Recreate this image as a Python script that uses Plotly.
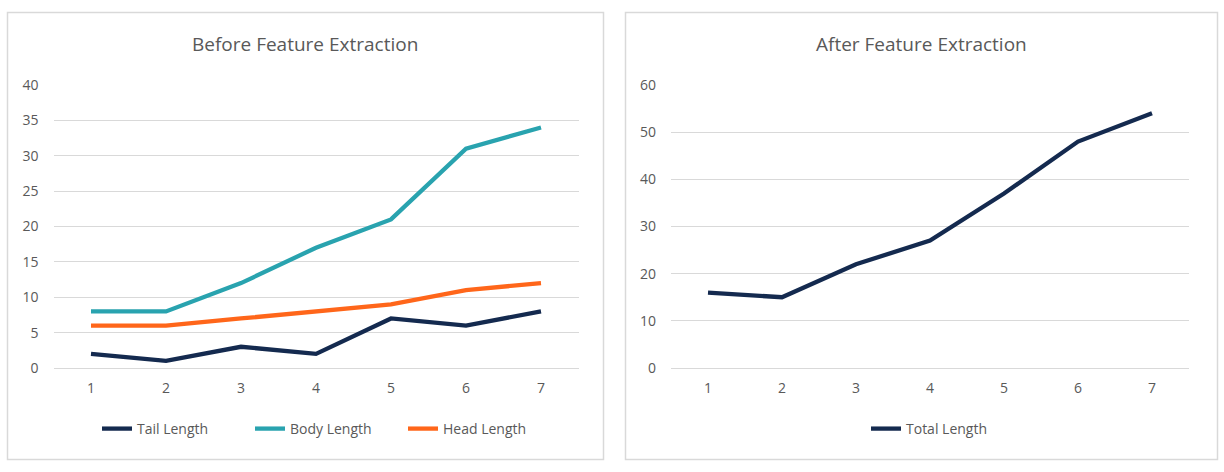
import plotly.graph_objects as go

categories = [1, 2, 3, 4, 5, 6, 7]
tail_length = [2, 1, 3, 2, 7, 6, 8]
body_length = [8, 8, 12, 17, 21, 31, 34]
head_length = [6, 6, 7, 8, 9, 11, 12]
total_length = [16, 15, 22, 27, 37, 48, 54]

W, H = 1224, 472
NAVY = "#142A4F"
TEAL = "#29A3AF"
ORANGE = "#FF661A"
GRID = "#D9D9D9"
TXT = "#595959"
FONT = "Open Sans"
LW = 4.3

fig = go.Figure()
fig.add_trace(go.Scatter(x=categories, y=tail_length, name="Tail Length", mode="lines",
                         line=dict(color=NAVY, width=LW), xaxis="x", yaxis="y", legend="legend"))
fig.add_trace(go.Scatter(x=categories, y=body_length, name="Body Length", mode="lines",
                         line=dict(color=TEAL, width=LW), xaxis="x", yaxis="y", legend="legend"))
fig.add_trace(go.Scatter(x=categories, y=head_length, name="Head Length", mode="lines",
                         line=dict(color=ORANGE, width=LW), xaxis="x", yaxis="y", legend="legend"))
fig.add_trace(go.Scatter(x=categories, y=total_length, name="Total Length", mode="lines",
                         line=dict(color=NAVY, width=LW), xaxis="x2", yaxis="y2", legend="legend2"))

ydom = [104 / H, 387 / H]
common_x = dict(range=[0.5, 7.5], tickmode="array", tickvals=categories, showgrid=False,
                zeroline=False, showline=False, ticks="", ticklabelstandoff=10, automargin=False,
                tickfont=dict(family=FONT, size=14, color=TXT), fixedrange=True)
common_y = dict(showgrid=True, gridcolor=GRID, gridwidth=1, zeroline=True, zerolinecolor=GRID,
                zerolinewidth=1, showline=False, ticks="", ticklabelstandoff=14, automargin=False,
                tickfont=dict(family=FONT, size=14, color=TXT), fixedrange=True)

fig.update_layout(
    width=W, height=H,
    margin=dict(l=0, r=0, t=0, b=0, autoexpand=False),
    paper_bgcolor="white", plot_bgcolor="white",
    font=dict(family=FONT, color=TXT),
    xaxis=dict(domain=[53.5 / W, 578.5 / W], anchor="y", **common_x),
    yaxis=dict(domain=ydom, anchor="x", range=[0, 40], dtick=5, **common_y),
    xaxis2=dict(domain=[671 / W, 1189 / W], anchor="y2", **common_x),
    yaxis2=dict(domain=ydom, anchor="x2", range=[0, 60], dtick=10, **common_y),
    legend=dict(orientation="h", x=97 / W, xanchor="left", y=1 - 429 / H, yanchor="middle",
                xref="container", yref="container",
                font=dict(family=FONT, size=14, color=TXT), entrywidth=108,
                bgcolor="rgba(0,0,0,0)"),
    legend2=dict(orientation="h", x=866 / W, xanchor="left", y=1 - 429 / H, yanchor="middle",
                 xref="container", yref="container",
                 font=dict(family=FONT, size=14, color=TXT),
                 bgcolor="rgba(0,0,0,0)"),
    showlegend=True,
    annotations=[
        dict(text="Before Feature Extraction", x=305 / W, y=1 - 44 / H, xref="paper", yref="paper",
             xanchor="center", yanchor="middle", showarrow=False,
             font=dict(family=FONT, size=19, color=TXT)),
        dict(text="After Feature Extraction", x=921 / W, y=1 - 44 / H, xref="paper", yref="paper",
             xanchor="center", yanchor="middle", showarrow=False,
             font=dict(family=FONT, size=19, color=TXT)),
    ],
    shapes=[
        dict(type="rect", xref="paper", yref="paper", x0=7.5 / W, x1=603.5 / W,
             y0=1 - 459.5 / H, y1=1 - 12.5 / H, line=dict(color="#D9D9D9", width=1.5)),
        dict(type="rect", xref="paper", yref="paper", x0=625.5 / W, x1=1217.5 / W,
             y0=1 - 459.5 / H, y1=1 - 12.5 / H, line=dict(color="#D9D9D9", width=1.5)),
    ],
)

post = (
    "document.body.style.margin='0';document.body.style.padding='0';"
    "document.body.style.overflow='hidden';"
)

fig.write_html("out.html", config={"displayModeBar": False}, post_script=post)
